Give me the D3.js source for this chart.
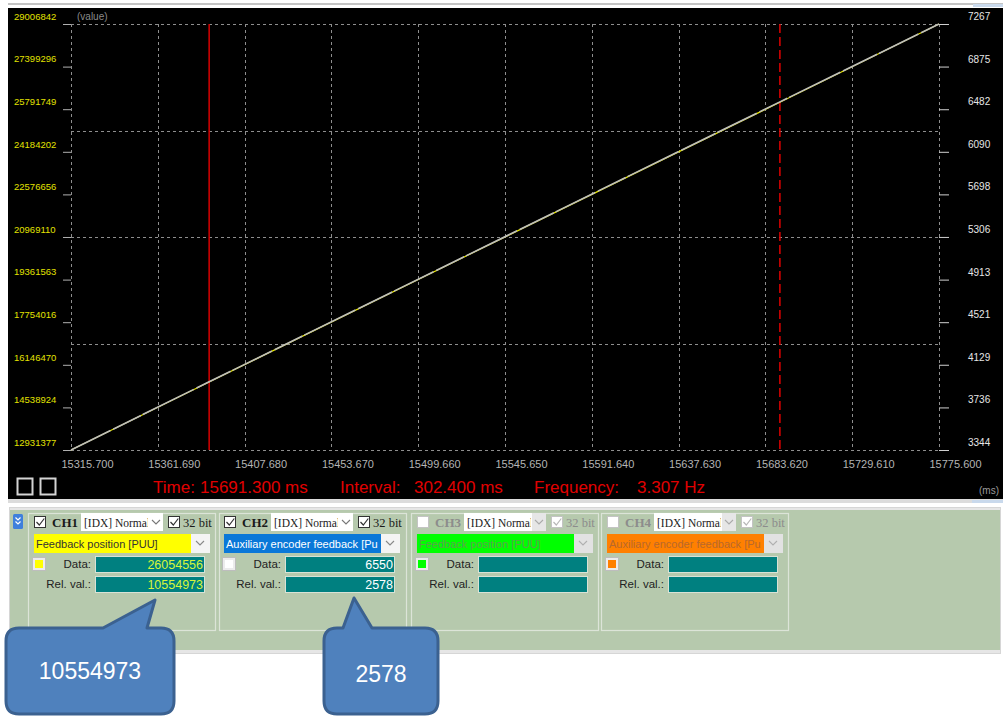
<!DOCTYPE html>
<html><head><meta charset="utf-8">
<script src="https://cdn.jsdelivr.net/npm/d3@7"></script>
<style>body{margin:0;background:#fff;} svg{display:block;}</style>
</head><body><svg id="c" width="1003" height="716"></svg>
<script>
// ---- data ----
const timeMs = [15315.7, 15388.9, 15691.3, 15775.6];
const ch1Values = [12931377, 15499583, 26054556, 29006842];
const ch2Values = [3344, 3972, 6550, 7267];
const leftTicks = [12931377, 14538924, 16146470, 17754016, 19361563, 20969110, 22576656, 24184202, 25791749, 27399296, 29006842];
const rightTicks = [3344, 3736, 4129, 4521, 4913, 5306, 5698, 6090, 6482, 6875, 7267];
const xTicks = [15315.700, 15361.690, 15407.680, 15453.670, 15499.660, 15545.650, 15591.640, 15637.630, 15683.620, 15729.610, 15775.600];
const cursorTimes = [15388.9, 15691.3];
const statusLabels = ["Time:", "15691.300 ms", "Interval:", "302.400 ms", "Frequency:", "3.307 Hz"];
const chNames = ["CH1", "CH2", "CH3", "CH4"];
const chSignals = ["Feedback position [PUU]", "Auxiliary encoder feedback [Pu", "Feedback position [PUU]", "Auxiliary encoder feedback [Pu"];
const chColors = ["#ffff00", "#ffffff", "#00ff00", "#ff8000"];
const chEnabled = [true, true, false, false];
const chData = ["26054556", "6550", "", ""];
const chRel = ["10554973", "2578", "", ""];
const callouts = ["10554973", "2578"];

const svg = d3.select("#c");
const FS = "'Liberation Sans', Arial, sans-serif";
const FSER = "'Liberation Serif', 'Times New Roman', serif";

// ---- frame ----
svg.append("rect").attr("x",0).attr("y",0).attr("width",1003).attr("height",716).attr("fill","#fff");
svg.append("rect").attr("x",8).attr("y",3).attr("width",995).attr("height",2).attr("fill","#c4c4c4");
svg.append("rect").attr("x",973).attr("y",4).attr("width",30).attr("height",3).attr("fill","#c9d9ec");
svg.append("rect").attr("x",8).attr("y",8).attr("width",995).attr("height",491).attr("fill","#000");

// ---- scales ----
const x = d3.scaleLinear().domain([xTicks[0], xTicks[xTicks.length-1]]).range([71, 939]);
const y1 = d3.scaleLinear().domain([leftTicks[0], leftTicks[leftTicks.length-1]]).range([450, 24]);
const y2 = d3.scaleLinear().domain([rightTicks[0], rightTicks[rightTicks.length-1]]).range([450, 24]);

// ---- grid ----
const grid = svg.append("g").attr("stroke","#8e8e8e").attr("stroke-dasharray","3,3").attr("stroke-width",1);
xTicks.forEach(t => grid.append("line").attr("x1",Math.round(x(t))+0.5).attr("x2",Math.round(x(t))+0.5).attr("y1",24).attr("y2",450));
const [lo, hi] = y1.domain();
d3.range(5).map(i => lo + i*(hi-lo)/4).forEach(v =>
  grid.append("line").attr("x1",71).attr("x2",939).attr("y1",Math.round(y1(v))+0.5).attr("y2",Math.round(y1(v))+0.5));

// ---- axes ----
const gL = svg.append("g").attr("transform","translate(71,0)")
  .call(d3.axisLeft(y1).tickValues(leftTicks).tickSize(8).tickFormat(d3.format("d")));
gL.select(".domain").remove();
gL.selectAll(".tick line").attr("stroke","#b0b0b0");
gL.selectAll(".tick text").attr("x",-57).attr("y",-8).attr("dy","0.35em").attr("text-anchor","start")
  .attr("fill","#e2e200").style("font-family",FS).style("font-size","9.5px");

const gR = svg.append("g").attr("transform","translate(939,0)")
  .call(d3.axisRight(y2).tickValues(rightTicks).tickSize(10).tickFormat(d3.format("d")));
gR.select(".domain").remove();
gR.selectAll(".tick line").attr("stroke","#d0d0d0");
gR.selectAll(".tick text").attr("x",29).attr("y",-8).attr("dy","0.35em").attr("text-anchor","start")
  .attr("fill","#e6e6e6").style("font-family",FS).style("font-size","10px");

const gX = svg.append("g").attr("transform","translate(0,450)")
  .call(d3.axisBottom(x).tickValues(xTicks).tickSize(0).tickFormat(d3.format(".3f")));
gX.select(".domain").remove();
gX.selectAll(".tick text").attr("x",-10).attr("y",14).attr("dy","0.35em").attr("text-anchor","start")
  .attr("fill","#b4b4b4").style("font-family",FS).style("font-size","11px");

svg.append("text").attr("x",77).attr("y",19.5).text("(value)").attr("fill","#8a8a8a")
  .style("font-family",FS).style("font-size","10px");

// ---- cursors ----
svg.append("line").attr("x1",x(cursorTimes[0])).attr("x2",x(cursorTimes[0])).attr("y1",24).attr("y2",450)
  .attr("stroke","#d80000").attr("stroke-width",1.5);
svg.append("line").attr("x1",x(cursorTimes[1])).attr("x2",x(cursorTimes[1])).attr("y1",24).attr("y2",450)
  .attr("stroke","#e00000").attr("stroke-width",1.5).attr("stroke-dasharray","9,4");

// ---- series ----
const pts1 = timeMs.map((t,i) => [t, ch1Values[i]]);
const pts2 = timeMs.map((t,i) => [t, ch2Values[i]]);
svg.append("path").datum(pts1).attr("fill","none").attr("stroke","#e8e800").attr("stroke-width",1.2)
  .attr("d", d3.line().x(d=>x(d[0])).y(d=>y1(d[1])));
svg.append("path").datum(pts2).attr("fill","none").attr("stroke","#bdbdbd").attr("stroke-width",1.6)
  .attr("stroke-dasharray","44,3,31,2,57,3,38,2")
  .attr("d", d3.line().x(d=>x(d[0])).y(d=>y2(d[1])));

// ---- status line ----
const statusX = [153, 200, 340, 414, 534, 637];
statusLabels.forEach((s,i) => svg.append("text").attr("x",statusX[i]).attr("y",493).text(s)
  .attr("fill","#e00000").style("font-family",FS).style("font-size","17px"));
svg.append("text").attr("x",979).attr("y",494).text("(ms)").attr("fill","#9a9a9a")
  .style("font-family",FS).style("font-size","10px");
[17.5, 40.5].forEach(bx => svg.append("rect").attr("x",bx).attr("y",478.5).attr("width",15).attr("height",16)
  .attr("fill","none").attr("stroke","#d4d4d4").attr("stroke-width",2));

// ---- separator ----
svg.append("rect").attr("x",8).attr("y",499).attr("width",995).attr("height",4).attr("fill","#dcdcdc");
svg.append("rect").attr("x",972).attr("y",500).attr("width",31).attr("height",3).attr("fill","#c9d9ec");

// ---- bottom panel ----
svg.append("rect").attr("x",9.5).attr("y",507.5).attr("width",991).attr("height",146).attr("fill","#e6e6e6").attr("stroke","#d6d6d6");
svg.append("rect").attr("x",10).attr("y",510).attr("width",990).attr("height",140).attr("fill","#b6c9ad");

// expand button
svg.append("rect").attr("x",13).attr("y",514).attr("width",10).attr("height",15).attr("rx",1.5).attr("fill","#3f7fdc");
svg.append("path").attr("d","M15.5,517.5 l2.5,2.5 l2.5,-2.5 M15.5,521.5 l2.5,2.5 l2.5,-2.5")
  .attr("fill","none").attr("stroke","#fff").attr("stroke-width",1.2);

const defs = svg.append("defs");
const boxX = [28, 219, 411, 601];
const off = [0, 190, 383, 573];

function chevron(g, cx, cy, col){
  g.append("path").attr("d",`M${cx-4},${cy-2} l4,4 l4,-4`).attr("fill","none").attr("stroke",col).attr("stroke-width",1.1);
}
function checkbox(g, bx, by, checked, enabled){
  g.append("rect").attr("x",bx+0.5).attr("y",by+0.5).attr("width",11).attr("height",11)
    .attr("fill","#fff").attr("stroke", enabled ? "#333" : "#c4c4c4");
  if (checked) g.append("path").attr("d",`M${bx+2.5},${by+6} l2.8,3 l5,-6.5`).attr("fill","none")
    .attr("stroke", enabled ? "#333" : "#b8b8b8").attr("stroke-width",1.2);
}

chNames.forEach((name, i) => {
  const g = svg.append("g");
  const o = off[i];
  const en = chEnabled[i];
  // group box
  g.append("rect").attr("x",boxX[i]+0.5).attr("y",513.5).attr("width",187).attr("height",117)
    .attr("fill","none").attr("stroke","#dce4d8").attr("stroke-width",1.2);
  checkbox(g, 34+o, 516, en, en);
  g.append("text").attr("x",52+o).attr("y",527).text(name).attr("fill", en ? "#1a1a1a" : "#8c8c8c")
    .style("font-family",FSER).style("font-size","13px").style("font-weight","bold");
  // mode dropdown
  g.append("rect").attr("x",81+o).attr("y",513).attr("width",82).attr("height",18).attr("fill","#fff");
  if (!en) g.append("rect").attr("x",149+o).attr("y",513).attr("width",14).attr("height",18).attr("fill","#e6e6e6");
  const cid = "clipm"+i;
  defs.append("clipPath").attr("id",cid).append("rect").attr("x",81+o).attr("y",513).attr("width",67).attr("height",18);
  g.append("text").attr("x",84+o).attr("y",527).text("[IDX] Normal").attr("fill","#222").attr("clip-path",`url(#${cid})`)
    .style("font-family",FSER).style("font-size","11.5px");
  chevron(g, 156+o, 522, en ? "#777" : "#aaa");
  checkbox(g, 168+o, 516, true, en);
  g.append("text").attr("x",183+o).attr("y",527).text("32 bit").attr("fill", en ? "#1a1a1a" : "#8c8c8c")
    .style("font-family",FSER).style("font-size","12.5px");
  // signal dropdown
  g.append("rect").attr("x",34+o).attr("y",534).attr("width",157).attr("height",19).attr("fill",
    i===1 ? "#0a78d8" : chColors[i]);
  g.append("rect").attr("x",191+o).attr("y",534).attr("width",19).attr("height",19).attr("fill", en ? "#f4f4f4" : "#e2e2e2");
  chevron(g, 200+o, 543, en ? "#888" : "#b0b0b0");
  const sid = "clips"+i;
  defs.append("clipPath").attr("id",sid).append("rect").attr("x",34+o).attr("y",534).attr("width",157).attr("height",19);
  const sigCol = [ "#333", "#ffffff", "#5f9f4f", "#b8682c"][i];
  g.append("text").attr("x",36+o).attr("y",548).text(chSignals[i]).attr("fill",sigCol).attr("clip-path",`url(#${sid})`)
    .style("font-family",FS).style("font-size","11px");
  // swatch
  g.append("rect").attr("x",32.5+o).attr("y",557.5).attr("width",13).attr("height",13).attr("fill","#ececec").attr("stroke","#bdbdbd");
  g.append("rect").attr("x",35+o).attr("y",560).attr("width",8).attr("height",8).attr("fill",chColors[i]);
  // data fields
  [["Data:", chData[i], 556], ["Rel. val.:", chRel[i], 576]].forEach(([lab, val, yy]) => {
    g.append("text").attr("x",91+o).attr("y",yy+12).text(lab).attr("text-anchor","end").attr("fill","#222")
      .style("font-family",FS).style("font-size","11.5px");
    g.append("rect").attr("x",95.5+o).attr("y",yy+0.5).attr("width",109).attr("height",16)
      .attr("fill","#008080").attr("stroke","#d8e2d6");
    g.append("text").attr("x",203+o).attr("y",yy+13).text(val).attr("text-anchor","end")
      .attr("fill", i===0 ? "#d6f53a" : "#ffffff").style("font-family",FS).style("font-size","12.5px");
  });
});

// ---- callouts ----
function callout(bx, by, bw, bh, r, p1, tip, p2, label, ty){
  const d = `M${bx+r},${by} L${p1},${by} L${tip[0]},${tip[1]} L${p2},${by} L${bx+bw-r},${by}
    Q${bx+bw},${by} ${bx+bw},${by+r} L${bx+bw},${by+bh-r} Q${bx+bw},${by+bh} ${bx+bw-r},${by+bh}
    L${bx+r},${by+bh} Q${bx},${by+bh} ${bx},${by+bh-r} L${bx},${by+r} Q${bx},${by} ${bx+r},${by} Z`;
  svg.append("path").attr("d",d).attr("fill","#4f81bd").attr("stroke","#3b6190").attr("stroke-width",3).attr("stroke-linejoin","round");
  svg.append("text").attr("x",bx+bw/2).attr("y",ty).text(label).attr("text-anchor","middle").attr("dy","0.35em")
    .attr("fill","#fff").style("font-family",FS).style("font-size","23px");
}
callout(6, 628, 168, 86, 13, 103, [155, 600], 147, callouts[0], 671);
callout(324, 628, 114, 86, 13, 343, [354, 598], 372, callouts[1], 674);
</script></body></html>
